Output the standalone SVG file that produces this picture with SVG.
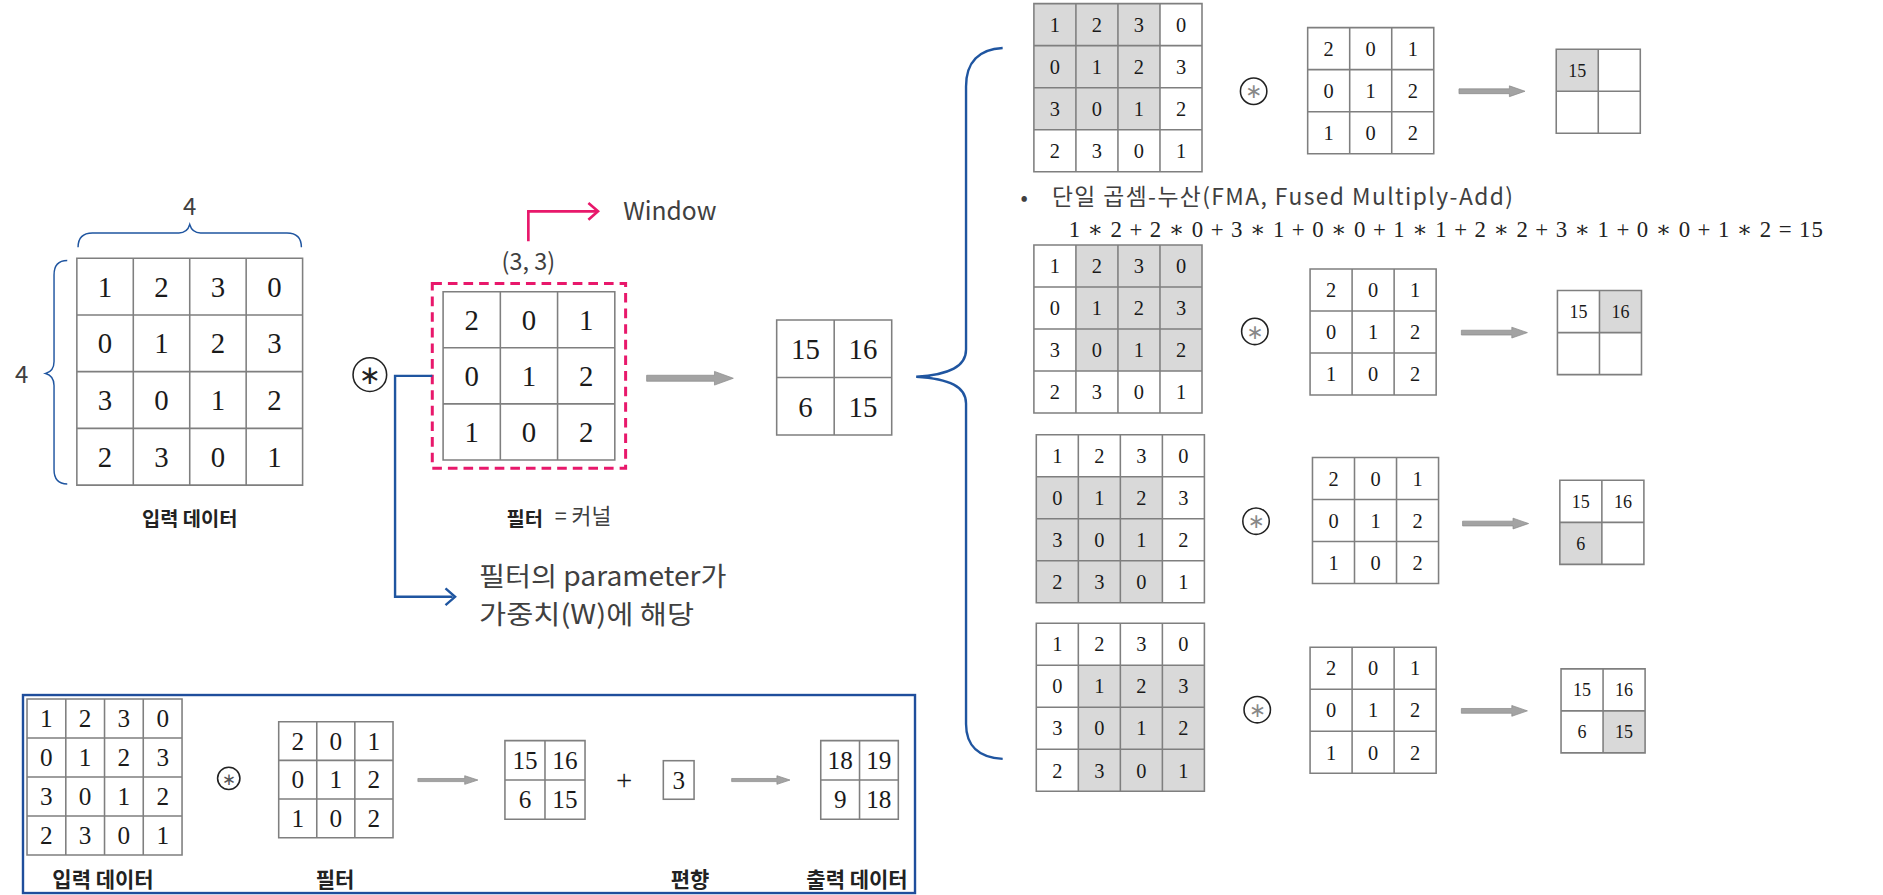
<svg xmlns="http://www.w3.org/2000/svg" width="1883" height="895" viewBox="0 0 1883 895">
<style>
.bg{fill:#fff}
.gl{fill:none;stroke:#7f7f7f;stroke-width:1.3}
.sh{fill:#d9d9d9}
.n{font-family:"Liberation Serif","DejaVu Serif",serif;fill:#1a1a1a;text-anchor:middle}
.n1{font-size:24px}
.n2{font-size:17px}
.n3{font-size:15px}
.n4{font-size:21px}
.s{font-family:"Noto Sans CJK KR","Noto Sans",sans-serif;fill:#404040}
.b{font-family:"Noto Sans CJK KR","Noto Sans",sans-serif;font-weight:bold;fill:#222;font-size:16.5px;text-anchor:middle}
.b2{font-size:17.5px}
.op{fill:#fff;stroke:#222;stroke-width:1.3}
.ast{font-family:"DejaVu Sans",sans-serif;text-anchor:middle}
.ga{fill:#a3a3a3;stroke:#8a8a8a;stroke-width:0.6}
.blue{fill:none;stroke:#1f55a0;stroke-width:2}
.pink{fill:none;stroke:#e8186b;stroke-width:2.2}
</style>
<rect class="bg" x="0" y="0" width="1883" height="895"/>
<g transform="scale(1.2008)">

<!-- main input grid -->
<g id="input-grid">
<path class="gl" d="M64,215H252V404H64Z M111,215V404 M158,215V404 M205,215V404 M64,262.25H252 M64,309.5H252 M64,356.75H252"/>
<text class="n n1" x="87.5" y="247">1</text><text class="n n1" x="134.5" y="247">2</text><text class="n n1" x="181.5" y="247">3</text><text class="n n1" x="228.5" y="247">0</text>
<text class="n n1" x="87.5" y="294.3">0</text><text class="n n1" x="134.5" y="294.3">1</text><text class="n n1" x="181.5" y="294.3">2</text><text class="n n1" x="228.5" y="294.3">3</text>
<text class="n n1" x="87.5" y="341.5">3</text><text class="n n1" x="134.5" y="341.5">0</text><text class="n n1" x="181.5" y="341.5">1</text><text class="n n1" x="228.5" y="341.5">2</text>
<text class="n n1" x="87.5" y="388.8">2</text><text class="n n1" x="134.5" y="388.8">3</text><text class="n n1" x="181.5" y="388.8">0</text><text class="n n1" x="228.5" y="388.8">1</text>
<text class="b" x="158" y="438">입력 데이터</text>
</g>

<g id="dim-braces">
<path class="blue" style="stroke-width:1.2" d="M65,206 Q65,194 77,194 L149,194 Q156,194 158,187 Q160,194 167,194 L239,194 Q251,194 251,206"/>
<text class="s" x="158" y="179" font-size="20" text-anchor="middle">4</text>
<path class="blue" style="stroke-width:1.2" d="M56,217 Q45,217 45,229 L45,301 Q45,309 38,311 Q45,313 45,321 L45,391 Q45,403 56,403"/>
<text class="s" x="18" y="319" font-size="20" text-anchor="middle">4</text>
</g>

<g id="op-main">
<circle class="op" cx="308" cy="312" r="14"/>
<text class="ast" x="308" y="320" font-size="22" fill="#222">∗</text>
</g>

<!-- filter -->
<g id="filter">
<rect x="360" y="236" width="161" height="154" fill="none" stroke="#e8186b" stroke-width="2.5" stroke-dasharray="8,5"/>
<path class="gl" d="M369,243H512V383H369Z M416.67,243V383 M464.33,243V383 M369,289.67H512 M369,336.33H512"/>
<text class="n n1" x="392.8" y="274.8">2</text><text class="n n1" x="440.5" y="274.8">0</text><text class="n n1" x="488.2" y="274.8">1</text>
<text class="n n1" x="392.8" y="321.5">0</text><text class="n n1" x="440.5" y="321.5">1</text><text class="n n1" x="488.2" y="321.5">2</text>
<text class="n n1" x="392.8" y="368.2">1</text><text class="n n1" x="440.5" y="368.2">0</text><text class="n n1" x="488.2" y="368.2">2</text>
<text class="s" x="440" y="225" font-size="19.5" text-anchor="middle">(3, 3)</text>
<text class="b" x="437" y="438">필터</text>
<text class="s" x="462" y="436" font-size="18">= 커널</text>
</g>

<g id="window-label">
<text class="s" x="519" y="183" font-size="20.5" fill="#333">Window</text>
</g>

<g id="weight-note">
<text class="s" x="399" y="488" font-size="22" textLength="206" lengthAdjust="spacingAndGlyphs">필터의 parameter가</text>
<text class="s" x="399" y="520" font-size="22" textLength="179" lengthAdjust="spacingAndGlyphs">가중치(W)에 해당</text>
</g>

<!-- output -->
<g id="output-main">
<path class="gl" d="M646.8,266.5H742.6V362.3H646.8Z M694.7,266.5V362.3 M646.8,314.4H742.6"/>
<text class="n n1" x="670.75" y="299">15</text><text class="n n1" x="718.65" y="299">16</text>
<text class="n n1" x="670.75" y="346.9">6</text><text class="n n1" x="718.65" y="346.9">15</text>
</g>

<!-- right side rows -->
<g id="row1-input">
<rect class="sh" x="861" y="3" width="105" height="105"/>
<path class="gl" d="M861,3H1001V143H861Z M896,3V143 M931,3V143 M966,3V143 M861,38H1001 M861,73H1001 M861,108H1001"/>
<text class="n n2" x="878.5" y="26.5">1</text><text class="n n2" x="913.5" y="26.5">2</text><text class="n n2" x="948.5" y="26.5">3</text><text class="n n2" x="983.5" y="26.5">0</text>
<text class="n n2" x="878.5" y="61.5">0</text><text class="n n2" x="913.5" y="61.5">1</text><text class="n n2" x="948.5" y="61.5">2</text><text class="n n2" x="983.5" y="61.5">3</text>
<text class="n n2" x="878.5" y="96.5">3</text><text class="n n2" x="913.5" y="96.5">0</text><text class="n n2" x="948.5" y="96.5">1</text><text class="n n2" x="983.5" y="96.5">2</text>
<text class="n n2" x="878.5" y="131.5">2</text><text class="n n2" x="913.5" y="131.5">3</text><text class="n n2" x="948.5" y="131.5">0</text><text class="n n2" x="983.5" y="131.5">1</text>
</g>
<g id="row1-op"><circle class="op" cx="1044" cy="76" r="11"/><text class="ast" x="1044" y="82" font-size="17" fill="#888">∗</text></g>
<g id="row1-filter">
<path class="gl" d="M1089,23H1194V128H1089Z M1124,23V128 M1159,23V128 M1089,58H1194 M1089,93H1194"/>
<text class="n n2" x="1106.5" y="46.5">2</text><text class="n n2" x="1141.5" y="46.5">0</text><text class="n n2" x="1176.5" y="46.5">1</text>
<text class="n n2" x="1106.5" y="81.5">0</text><text class="n n2" x="1141.5" y="81.5">1</text><text class="n n2" x="1176.5" y="81.5">2</text>
<text class="n n2" x="1106.5" y="116.5">1</text><text class="n n2" x="1141.5" y="116.5">0</text><text class="n n2" x="1176.5" y="116.5">2</text>
</g>
<g id="row1-output">
<rect class="sh" x="1296" y="41" width="35" height="35"/>
<path class="gl" d="M1296,41H1366V111H1296Z M1331,41V111 M1296,76H1366"/>
<text class="n n3" x="1313.5" y="64">15</text>
</g>

<g id="fma-note">
<text class="s" x="853" y="171" font-size="18" text-anchor="middle">•</text>
<text class="s" x="876" y="171" font-size="19" textLength="384" lengthAdjust="spacing">단일 곱셈-누산(FMA, Fused Multiply-Add)</text>
<text x="890" y="197" font-family="Liberation Serif, DejaVu Serif, serif" font-size="19" fill="#222" textLength="628" lengthAdjust="spacing">1 ∗ 2 + 2 ∗ 0 + 3 ∗ 1 + 0 ∗ 0 + 1 ∗ 1 + 2 ∗ 2 + 3 ∗ 1 + 0 ∗ 0 + 1 ∗ 2 = 15</text>
</g>

<g id="row2-input">
<rect class="sh" x="896" y="204" width="105" height="105"/>
<path class="gl" d="M861,204H1001V344H861Z M896,204V344 M931,204V344 M966,204V344 M861,239H1001 M861,274H1001 M861,309H1001"/>
<text class="n n2" x="878.5" y="227.5">1</text><text class="n n2" x="913.5" y="227.5">2</text><text class="n n2" x="948.5" y="227.5">3</text><text class="n n2" x="983.5" y="227.5">0</text>
<text class="n n2" x="878.5" y="262.5">0</text><text class="n n2" x="913.5" y="262.5">1</text><text class="n n2" x="948.5" y="262.5">2</text><text class="n n2" x="983.5" y="262.5">3</text>
<text class="n n2" x="878.5" y="297.5">3</text><text class="n n2" x="913.5" y="297.5">0</text><text class="n n2" x="948.5" y="297.5">1</text><text class="n n2" x="983.5" y="297.5">2</text>
<text class="n n2" x="878.5" y="332.5">2</text><text class="n n2" x="913.5" y="332.5">3</text><text class="n n2" x="948.5" y="332.5">0</text><text class="n n2" x="983.5" y="332.5">1</text>
</g>
<g id="row2-op"><circle class="op" cx="1045" cy="276" r="11"/><text class="ast" x="1045" y="282" font-size="17" fill="#888">∗</text></g>
<g id="row2-filter">
<path class="gl" d="M1091,224H1196V329H1091Z M1126,224V329 M1161,224V329 M1091,259H1196 M1091,294H1196"/>
<text class="n n2" x="1108.5" y="247.5">2</text><text class="n n2" x="1143.5" y="247.5">0</text><text class="n n2" x="1178.5" y="247.5">1</text>
<text class="n n2" x="1108.5" y="282.5">0</text><text class="n n2" x="1143.5" y="282.5">1</text><text class="n n2" x="1178.5" y="282.5">2</text>
<text class="n n2" x="1108.5" y="317.5">1</text><text class="n n2" x="1143.5" y="317.5">0</text><text class="n n2" x="1178.5" y="317.5">2</text>
</g>
<g id="row2-output">
<rect class="sh" x="1332" y="242" width="35" height="35"/>
<path class="gl" d="M1297,242H1367V312H1297Z M1332,242V312 M1297,277H1367"/>
<text class="n n3" x="1314.5" y="265">15</text><text class="n n3" x="1349.5" y="265">16</text>
</g>

<g id="row3-input">
<rect class="sh" x="863" y="397" width="105" height="105"/>
<path class="gl" d="M863,362H1003V502H863Z M898,362V502 M933,362V502 M968,362V502 M863,397H1003 M863,432H1003 M863,467H1003"/>
<text class="n n2" x="880.5" y="385.5">1</text><text class="n n2" x="915.5" y="385.5">2</text><text class="n n2" x="950.5" y="385.5">3</text><text class="n n2" x="985.5" y="385.5">0</text>
<text class="n n2" x="880.5" y="420.5">0</text><text class="n n2" x="915.5" y="420.5">1</text><text class="n n2" x="950.5" y="420.5">2</text><text class="n n2" x="985.5" y="420.5">3</text>
<text class="n n2" x="880.5" y="455.5">3</text><text class="n n2" x="915.5" y="455.5">0</text><text class="n n2" x="950.5" y="455.5">1</text><text class="n n2" x="985.5" y="455.5">2</text>
<text class="n n2" x="880.5" y="490.5">2</text><text class="n n2" x="915.5" y="490.5">3</text><text class="n n2" x="950.5" y="490.5">0</text><text class="n n2" x="985.5" y="490.5">1</text>
</g>
<g id="row3-op"><circle class="op" cx="1046" cy="434" r="11"/><text class="ast" x="1046" y="440" font-size="17" fill="#888">∗</text></g>
<g id="row3-filter">
<path class="gl" d="M1093,381H1198V486H1093Z M1128,381V486 M1163,381V486 M1093,416H1198 M1093,451H1198"/>
<text class="n n2" x="1110.5" y="404.5">2</text><text class="n n2" x="1145.5" y="404.5">0</text><text class="n n2" x="1180.5" y="404.5">1</text>
<text class="n n2" x="1110.5" y="439.5">0</text><text class="n n2" x="1145.5" y="439.5">1</text><text class="n n2" x="1180.5" y="439.5">2</text>
<text class="n n2" x="1110.5" y="474.5">1</text><text class="n n2" x="1145.5" y="474.5">0</text><text class="n n2" x="1180.5" y="474.5">2</text>
</g>
<g id="row3-output">
<rect class="sh" x="1299" y="435" width="35" height="35"/>
<path class="gl" d="M1299,400H1369V470H1299Z M1334,400V470 M1299,435H1369"/>
<text class="n n3" x="1316.5" y="423">15</text><text class="n n3" x="1351.5" y="423">16</text>
<text class="n n3" x="1316.5" y="458">6</text>
</g>

<g id="row4-input">
<rect class="sh" x="898" y="554" width="105" height="105"/>
<path class="gl" d="M863,519H1003V659H863Z M898,519V659 M933,519V659 M968,519V659 M863,554H1003 M863,589H1003 M863,624H1003"/>
<text class="n n2" x="880.5" y="542.5">1</text><text class="n n2" x="915.5" y="542.5">2</text><text class="n n2" x="950.5" y="542.5">3</text><text class="n n2" x="985.5" y="542.5">0</text>
<text class="n n2" x="880.5" y="577.5">0</text><text class="n n2" x="915.5" y="577.5">1</text><text class="n n2" x="950.5" y="577.5">2</text><text class="n n2" x="985.5" y="577.5">3</text>
<text class="n n2" x="880.5" y="612.5">3</text><text class="n n2" x="915.5" y="612.5">0</text><text class="n n2" x="950.5" y="612.5">1</text><text class="n n2" x="985.5" y="612.5">2</text>
<text class="n n2" x="880.5" y="647.5">2</text><text class="n n2" x="915.5" y="647.5">3</text><text class="n n2" x="950.5" y="647.5">0</text><text class="n n2" x="985.5" y="647.5">1</text>
</g>
<g id="row4-op"><circle class="op" cx="1047" cy="591" r="11"/><text class="ast" x="1047" y="597" font-size="17" fill="#888">∗</text></g>
<g id="row4-filter">
<path class="gl" d="M1091,539H1196V644H1091Z M1126,539V644 M1161,539V644 M1091,574H1196 M1091,609H1196"/>
<text class="n n2" x="1108.5" y="562.5">2</text><text class="n n2" x="1143.5" y="562.5">0</text><text class="n n2" x="1178.5" y="562.5">1</text>
<text class="n n2" x="1108.5" y="597.5">0</text><text class="n n2" x="1143.5" y="597.5">1</text><text class="n n2" x="1178.5" y="597.5">2</text>
<text class="n n2" x="1108.5" y="632.5">1</text><text class="n n2" x="1143.5" y="632.5">0</text><text class="n n2" x="1178.5" y="632.5">2</text>
</g>
<g id="row4-output">
<rect class="sh" x="1335" y="592" width="35" height="35"/>
<path class="gl" d="M1300,557H1370V627H1300Z M1335,557V627 M1300,592H1370"/>
<text class="n n3" x="1317.5" y="580">15</text><text class="n n3" x="1352.5" y="580">16</text>
<text class="n n3" x="1317.5" y="615">6</text><text class="n n3" x="1352.5" y="615">15</text>
</g>

<!-- bottom summary box -->
<g id="summary">
<rect x="19.15" y="578.8" width="742.85" height="164.9" fill="none" stroke="#1f4e9c" stroke-width="2"/>
<path class="gl" d="M22.5,582.1H151.6V712H22.5Z M54.8,582.1V712 M87.05,582.1V712 M119.3,582.1V712 M22.5,614.6H151.6 M22.5,647.05H151.6 M22.5,679.5H151.6"/>
<text class="n n4" x="38.6" y="605.3">1</text><text class="n n4" x="70.9" y="605.3">2</text><text class="n n4" x="103.2" y="605.3">3</text><text class="n n4" x="135.5" y="605.3">0</text>
<text class="n n4" x="38.6" y="637.8">0</text><text class="n n4" x="70.9" y="637.8">1</text><text class="n n4" x="103.2" y="637.8">2</text><text class="n n4" x="135.5" y="637.8">3</text>
<text class="n n4" x="38.6" y="670.3">3</text><text class="n n4" x="70.9" y="670.3">0</text><text class="n n4" x="103.2" y="670.3">1</text><text class="n n4" x="135.5" y="670.3">2</text>
<text class="n n4" x="38.6" y="702.8">2</text><text class="n n4" x="70.9" y="702.8">3</text><text class="n n4" x="103.2" y="702.8">0</text><text class="n n4" x="135.5" y="702.8">1</text>
<circle class="op" cx="190.5" cy="648.2" r="9.3"/>
<text class="ast" x="190.5" y="653.5" font-size="14" fill="#555">∗</text>
<path class="gl" d="M232.1,601H327.3V697.6H232.1Z M263.8,601V697.6 M295.5,601V697.6 M232.1,633.2H327.3 M232.1,665.4H327.3"/>
<text class="n n4" x="248" y="624.4">2</text><text class="n n4" x="279.7" y="624.4">0</text><text class="n n4" x="311.4" y="624.4">1</text>
<text class="n n4" x="248" y="656.6">0</text><text class="n n4" x="279.7" y="656.6">1</text><text class="n n4" x="311.4" y="656.6">2</text>
<text class="n n4" x="248" y="688.8">1</text><text class="n n4" x="279.7" y="688.8">0</text><text class="n n4" x="311.4" y="688.8">2</text>
<path class="gl" d="M420.5,616.8H487.2V682.3H420.5Z M453.85,616.8V682.3 M420.5,649.55H487.2"/>
<text class="n n4" x="437.2" y="640.5">15</text><text class="n n4" x="470.5" y="640.5">16</text>
<text class="n n4" x="437.2" y="673.2">6</text><text class="n n4" x="470.5" y="673.2">15</text>
<text class="n" x="519.7" y="657.5" font-size="24">+</text>
<rect x="552.4" y="633.5" width="25.6" height="32.1" fill="none" stroke="#7f7f7f" stroke-width="1.3"/>
<text class="n n4" x="565.2" y="656.9">3</text>
<path class="gl" d="M683.5,616.8H748.1V682.3H683.5Z M715.8,616.8V682.3 M683.5,649.55H748.1"/>
<text class="n n4" x="699.7" y="640.5">18</text><text class="n n4" x="731.9" y="640.5">19</text>
<text class="n n4" x="699.7" y="673.2">9</text><text class="n n4" x="731.9" y="673.2">18</text>
<text class="b b2" x="85.8" y="739">입력 데이터</text>
<text class="b b2" x="279" y="739">필터</text>
<text class="b b2" x="574.6" y="739">편향</text>
<text class="b b2" x="713.7" y="739">출력 데이터</text>
</g>

<!-- connectors -->
<g id="connectors">
<path class="blue" d="M360,313H329V497H377"/>
<path class="blue" d="M371,490L379,497L371,504"/>
<path class="pink" d="M440,201V176H497"/>
<path class="pink" d="M490,169L498,176L490,183"/>
<path class="ga" d="M538.5,312.5H595V309.3L610.7,315L595,320.7V317.5H538.5Z"/>
<path class="blue" d="M835,40 C815,41 804.5,52 804.5,72 L804.5,291 C804.5,305 791,312 763,313.7 C791,315.5 804.5,322 804.5,336 L804.5,603 C804.5,621 815,631 835,632"/>
<path class="ga" d="M1215,74H1257V71.5L1270,76L1257,80.5V78H1215Z"/>
<path class="ga" d="M1217,275H1259V272.5L1272,277L1259,281.5V279H1217Z"/>
<path class="ga" d="M1218,434H1260V431.5L1273,436L1260,440.5V438H1218Z"/>
<path class="ga" d="M1217,590H1259V587.5L1272,592L1259,596.5V594H1217Z"/>
<path class="ga" d="M348,648.3H387V646L398,649.6L387,653.2V650.9H348Z"/>
<path class="ga" d="M609.3,648.3H647V646L657.9,649.6L647,653.2V650.9H609.3Z"/>
</g>
</g>
</svg>
